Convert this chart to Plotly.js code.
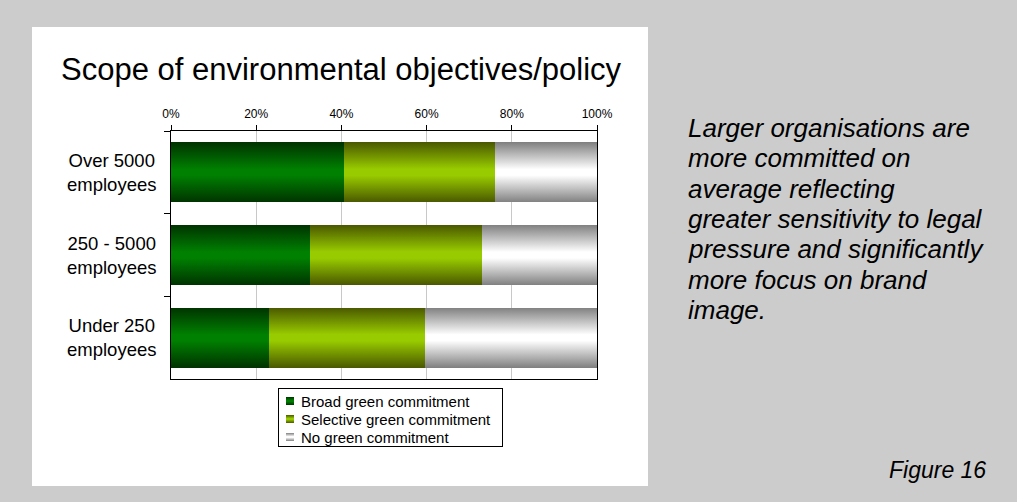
<!DOCTYPE html>
<html>
<head>
<meta charset="utf-8">
<script src="https://cdn.plot.ly/plotly-3.0.1.min.js"></script>
<style>
  html, body { margin: 0; padding: 0; background: #cccccc; }
  #chart { width: 1017px; height: 502px; }
</style>
</head>
<body>
<div id="chart"></div>
<script>
// ---- data ----
const categories = ['Over 5000<br>employees', '250 - 5000<br>employees', 'Under 250<br>employees'];
const seriesNames = ['Broad green commitment', 'Selective green commitment', 'No green commitment'];
const broadValues = [40.5, 32.6, 22.9];
const selectiveValues = [35.5, 40.3, 36.8];
const noneValues = [24.0, 27.1, 40.3];
const tickValues = [0, 20, 40, 60, 80, 100];
const tickLabels = ['0%', '20%', '40%', '60%', '80%', '100%'];
const chartTitle = 'Scope of environmental objectives/policy';
const sideText = ['Larger organisations are', 'more committed on', 'average reflecting',
  'greater sensitivity to legal', 'pressure and significantly', 'more focus on brand', 'image.'];
const figureLabel = 'Figure 16';

// ---- styling ----
const FONT = 'Liberation Sans, Arial, Helvetica, sans-serif';
const baseColors = ['#008000', '#99cc00', '#e0e0e0'];
const gradients = [
  ['#003300', '#008000', '#008000', '#003300'],
  ['#4a5800', '#99cc00', '#99cc00', '#4a5800'],
  ['#808080', '#ffffff', '#ffffff', '#808080']
];

const W = 1017, H = 502;
const M = { l: 171, r: 420, t: 131, b: 123 };
const PW = W - M.l - M.r, PH = H - M.t - M.b;
const px2x = p => (p - M.l) / PW;
const px2y = p => (H - M.b - p) / PH;

const valueSets = [broadValues, selectiveValues, noneValues];
const traces = valueSets.map((vals, i) => ({
  type: 'bar',
  orientation: 'h',
  name: seriesNames[i],
  y: categories,
  x: vals,
  marker: { color: baseColors[i], line: { width: 0 } },
  hoverinfo: 'none'
}));

const annotations = [
  {
    text: chartTitle, xref: 'paper', yref: 'paper',
    x: px2x(341), y: px2y(69), xanchor: 'center', yanchor: 'middle',
    showarrow: false, font: { family: FONT, size: 31, color: '#000' }
  },
  {
    text: figureLabel, xref: 'paper', yref: 'paper',
    x: px2x(988), y: px2y(470), xanchor: 'right', yanchor: 'middle',
    showarrow: false, font: { family: FONT, size: 23, color: '#000', style: 'italic' }
  }
];
sideText.forEach((line, i) => {
  annotations.push({
    text: line, xref: 'paper', yref: 'paper',
    x: px2x(686), y: px2y(128 + i * 30.3), xanchor: 'left', yanchor: 'middle',
    showarrow: false, font: { family: FONT, size: 26, color: '#000', style: 'italic' }
  });
});
categories.forEach(cat => {
  annotations.push({
    text: cat, xref: 'paper', yref: 'y',
    x: px2x(158), y: cat, xanchor: 'right', yanchor: 'middle', align: 'center',
    showarrow: false, font: { family: FONT, size: 18.5, color: '#000' }
  });
});

const layout = {
  width: W, height: H,
  margin: M,
  paper_bgcolor: '#cccccc',
  plot_bgcolor: '#ffffff',
  barmode: 'stack',
  bargap: 0.274,
  showlegend: true,
  font: { family: FONT, color: '#000' },
  xaxis: {
    side: 'top', range: [0, 100], fixedrange: true,
    tickmode: 'array', tickvals: tickValues, ticktext: tickLabels,
    ticks: 'outside', ticklen: 5, tickcolor: '#000', tickwidth: 1,
    ticklabelstandoff: 2,
    tickfont: { family: FONT, size: 12, color: '#000' },
    showline: true, linecolor: '#000', linewidth: 1, mirror: true,
    showgrid: true, gridcolor: '#c8c8c8', gridwidth: 1, zeroline: false
  },
  yaxis: {
    type: 'category', autorange: 'reversed', fixedrange: true,
    ticks: 'outside', ticklen: 6, tickcolor: '#000', tickson: 'boundaries',
    showticklabels: false,
    showline: true, linecolor: '#000', linewidth: 1, mirror: true,
    showgrid: false, zeroline: false
  },
  legend: {
    x: px2x(278), y: px2y(388), xanchor: 'left', yanchor: 'top',
    orientation: 'v', traceorder: 'normal',
    bgcolor: '#ffffff', bordercolor: '#000', borderwidth: 1,
    font: { family: FONT, size: 15, color: '#000' },
    itemwidth: 30
  },
  shapes: [{
    type: 'rect', xref: 'paper', yref: 'paper', layer: 'below',
    x0: px2x(32), x1: px2x(648), y0: px2y(486), y1: px2y(27),
    fillcolor: '#ffffff', line: { width: 0 }
  }],
  annotations: annotations
};

function applyGradients(gd) {
  const ns = 'http://www.w3.org/2000/svg';
  const svg = gd.querySelector('svg.main-svg');
  let defs = svg.querySelector('defs');
  if (!defs) { defs = document.createElementNS(ns, 'defs'); svg.insertBefore(defs, svg.firstChild); }
  const offs = ['0%', '45%', '55%', '100%'];
  gradients.forEach((cols, i) => {
    const lg = document.createElementNS(ns, 'linearGradient');
    lg.setAttribute('id', 'bargrad' + i);
    lg.setAttribute('x1', '0'); lg.setAttribute('y1', '0');
    lg.setAttribute('x2', '0'); lg.setAttribute('y2', '1');
    cols.forEach((c, k) => {
      const st = document.createElementNS(ns, 'stop');
      st.setAttribute('offset', offs[k]);
      st.setAttribute('stop-color', c);
      lg.appendChild(st);
    });
    defs.appendChild(lg);
  });
  gd.querySelectorAll('.barlayer .trace').forEach((tr, i) => {
    let idx = i;
    try { idx = tr.__data__[0].trace.index; } catch (e) {}
    tr.querySelectorAll('path').forEach(p => { p.style.fill = 'url(#bargrad' + idx + ')'; });
  });
}

function compactLegend(gd) {
  try {
    const leg = gd.querySelector('.legend');
    if (!leg) return;
    const bg = leg.querySelector('rect.bg');
    if (bg) { bg.setAttribute('width', 224); bg.setAttribute('height', 58); }
    const items = leg.querySelectorAll('.traces');
    const rowY = [13, 31, 49];
    items.forEach((tr, i) => {
      let idx = i;
      try { idx = tr.__data__[0][0].trace.index; } catch (e) {}
      tr.setAttribute('transform', 'translate(1,' + rowY[i] + ')');
      const t = tr.querySelector('.legendtext');
      if (t) t.setAttribute('x', 22);
      tr.querySelectorAll('.legendpoints path').forEach(p => {
        p.setAttribute('d', 'M4,4H-4V-4H4Z');
        p.setAttribute('transform', 'translate(11,0)');
        p.style.fill = 'url(#bargrad' + idx + ')';
        p.style.stroke = 'none';
      });
    });
    const clip = gd.querySelector('[id^="legend"] rect') ;
  } catch (e) {}
}

Plotly.newPlot('chart', traces, layout, { staticPlot: true, displayModeBar: false })
  .then(gd => { applyGradients(gd); compactLegend(gd); });
</script>
</body>
</html>
